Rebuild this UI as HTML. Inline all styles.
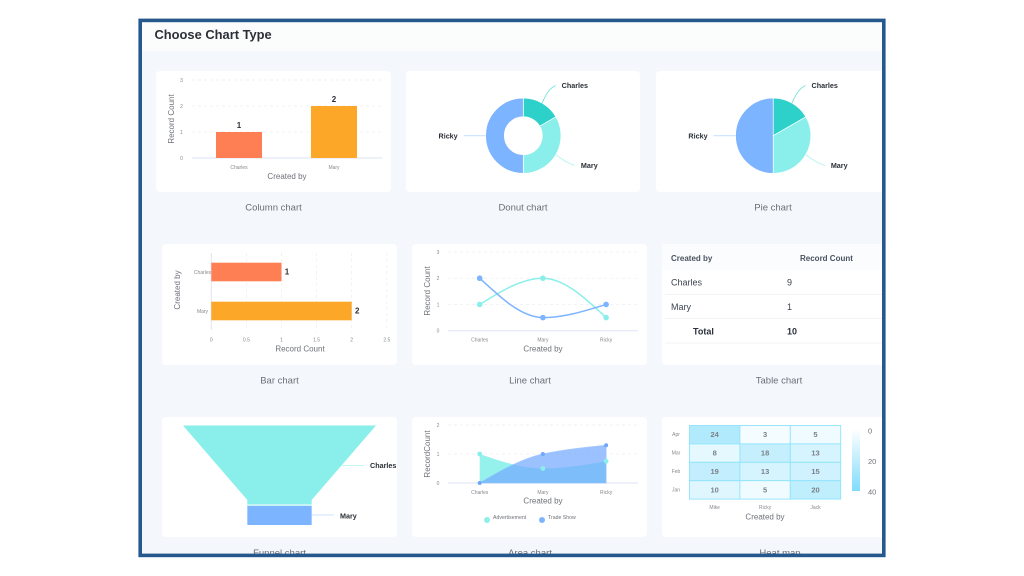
<!DOCTYPE html>
<html lang="en">
<head>
<meta charset="utf-8">
<title>Choose Chart Type</title>
<style>
html,body{margin:0;padding:0;background:#fff;width:1024px;height:576px;overflow:hidden}
svg{display:block;font-family:"Liberation Sans",sans-serif;filter:blur(0.35px)}
.card{fill:#fff}
.cap{font-size:9.5px;fill:#6a7079;text-anchor:middle}
.axt{font-size:8px;fill:#6d7178;text-anchor:middle}
.tick{font-size:5px;fill:#85898f;text-anchor:middle}
.val{font-size:8px;font-weight:bold;fill:#2a2f36;text-anchor:middle}
.lbl{font-size:7.2px;font-weight:bold;fill:#2a2f36}
.th{font-size:8px;font-weight:bold;fill:#4a5260}
.td{font-size:9px;fill:#3d4552}
.tb{font-size:9px;font-weight:bold;fill:#2a313b}
</style>
</head>
<body>
<svg id="root" width="1024" height="576" viewBox="0 0 1024 576" xmlns="http://www.w3.org/2000/svg">
  <defs>
    <linearGradient id="heat-grad" x1="0" y1="0" x2="0" y2="1">
      <stop offset="0" stop-color="#ffffff"/>
      <stop offset="1" stop-color="#7fdcfb"/>
    </linearGradient>
    <clipPath id="panel-clip"><rect x="140" y="20" width="744" height="535"/></clipPath>
  </defs>
  <g clip-path="url(#panel-clip)">
    <rect x="140" y="20" width="744" height="535" fill="#f4f7fb"/>
    <rect x="140" y="20" width="744" height="31" fill="#fbfdfd"/>
    <text x="154.5" y="39" font-size="12.9" font-weight="bold" fill="#2b3038">Choose Chart Type</text>

    <rect class="card" x="156" y="71" width="235" height="121" rx="4"/>
    <rect class="card" x="406" y="71" width="234" height="121" rx="4"/>
    <rect class="card" x="656" y="71" width="240" height="121" rx="4"/>
    <rect class="card" x="162" y="244" width="235" height="121" rx="4"/>
    <rect class="card" x="412" y="244" width="235" height="121" rx="4"/>
    <rect class="card" x="662" y="244" width="240" height="121" rx="4"/>
    <rect class="card" x="162" y="417" width="235" height="120" rx="4"/>
    <rect class="card" x="412" y="417" width="235" height="120" rx="4"/>
    <rect class="card" x="662" y="417" width="240" height="120" rx="4"/>

    <text class="cap" x="273.5" y="210.5">Column chart</text>
    <text class="cap" x="523" y="210.5">Donut chart</text>
    <text class="cap" x="773" y="210.5">Pie chart</text>
    <text class="cap" x="279.5" y="383.5">Bar chart</text>
    <text class="cap" x="530" y="383.5">Line chart</text>
    <text class="cap" x="779" y="383.5">Table chart</text>
    <text class="cap" x="279.5" y="556">Funnel chart</text>
    <text class="cap" x="530" y="556">Area chart</text>
    <text class="cap" x="780" y="556">Heat map</text>

    <g id="column">
      <text class="axt" x="287" y="179">Created by</text>
      <text class="axt" transform="translate(174,119) rotate(-90)">Record Count</text>
    </g>
    <g id="donut"></g>
    <g id="pie"></g>
    <g id="bar">
      <text class="axt" x="300" y="351.5">Record Count</text>
      <text class="axt" transform="translate(180,290) rotate(-90)">Created by</text>
    </g>
    <g id="line">
      <text class="axt" x="543" y="351.5">Created by</text>
      <text class="axt" transform="translate(430,291) rotate(-90)">Record Count</text>
    </g>
    <g id="table">
      <rect x="662" y="244" width="240" height="26" fill="#fbfcfd"/>
      <text class="th" x="671" y="261">Created by</text>
      <text class="th" x="800" y="261">Record Count</text>
      <text class="td" x="671" y="285.5">Charles</text>
      <text class="td" x="787" y="285.5">9</text>
      <line x1="665" x2="884" y1="294.5" y2="294.5" stroke="#f1f3f6"/>
      <text class="td" x="671" y="310">Mary</text>
      <text class="td" x="787" y="310">1</text>
      <line x1="665" x2="884" y1="318.5" y2="318.5" stroke="#f1f3f6"/>
      <text class="tb" x="693" y="334.5">Total</text>
      <text class="tb" x="787" y="334.5">10</text>
      <line x1="665" x2="884" y1="343" y2="343" stroke="#f1f3f6"/>
    </g>
    <g id="funnel"></g>
    <g id="area">
      <text class="axt" x="543" y="503.5">Created by</text>
      <text class="axt" transform="translate(430,454) rotate(-90)">RecordCount</text>
      <circle cx="487" cy="520" r="3" fill="#8eeeea"/>
      <text x="493" y="519" font-size="5.2" fill="#6d7178">Advertisement</text>
      <circle cx="542" cy="520" r="3" fill="#7db4ff"/>
      <text x="548" y="519" font-size="5.2" fill="#6d7178">Trade Show</text>
    </g>
    <g id="heat">
      <text class="axt" x="765" y="519.5">Created by</text>
      <rect x="852" y="429" width="8" height="62" fill="url(#heat-grad)"/>
    </g>
  </g>
  <rect x="140.2" y="20.4" width="743.6" height="535" fill="none" stroke="#25588d" stroke-width="3.6"/>
</svg>
<script>
// ---- chart data ----
const columnCategories = ['Charles', 'Mary'];
const columnValues = [1, 2];
const columnTicks = [0, 1, 2, 3];
const barColors = ['#ff7f55', '#fca728'];

const sliceCategories = ['Charles', 'Mary', 'Ricky'];
const sliceValues = [1, 2, 3];
const sliceColors = ['#2dd1c9', '#8aefea', '#7db4ff'];

const barCategories = ['Charles', 'Mary'];
const barValues = [1, 2];
const barTicks = [0, 0.5, 1, 1.5, 2, 2.5];

const lineCategories = ['Charles', 'Mary', 'Ricky'];
const lineSeriesA = [1, 2, 0.5];
const lineSeriesB = [2, 0.5, 1];
const lineTicks = [0, 1, 2, 3];

const funnelCategories = ['Charles', 'Mary'];
const funnelValues = [3, 1];

const areaCategories = ['Charles', 'Mary', 'Ricky'];
const areaAdvertisement = [1, 0.5, 0.75];
const areaTradeShow = [0, 1, 1.3];
const areaTicks = [0, 1, 2];

const heatColumns = ['Mike', 'Ricky', 'Jack'];
const heatRows = ['Apr', 'Mar', 'Feb', 'Jan'];
const heatValues = [[24, 3, 5], [8, 18, 13], [19, 13, 15], [10, 5, 20]];
const heatLegendTicks = [0, 20, 40];

// ---- helpers ----
const NS = 'http://www.w3.org/2000/svg';
function add(parent, tag, attrs, txt) {
  const el = document.createElementNS(NS, tag);
  for (const k in attrs) el.setAttribute(k, attrs[k]);
  if (txt !== undefined) el.textContent = txt;
  parent.appendChild(el);
  return el;
}
function linear(d0, d1, r0, r1) {
  return v => r0 + (v - d0) / (d1 - d0) * (r1 - r0);
}
function slug(s) { return String(s).toLowerCase().replace(/[^a-z0-9]+/g, '-'); }
function monotonePath(xs, ys) {
  const n = xs.length, d = [], m = [];
  for (let i = 0; i < n - 1; i++) d.push((ys[i + 1] - ys[i]) / (xs[i + 1] - xs[i]));
  m[0] = d[0];
  m[n - 1] = d[n - 2];
  for (let i = 1; i < n - 1; i++) {
    m[i] = d[i - 1] * d[i] <= 0 ? 0 : 2 * d[i - 1] * d[i] / (d[i - 1] + d[i]);
  }
  m[0] = (3 * d[0] - m[1]) / 2;
  m[n - 1] = (3 * d[n - 2] - m[n - 2]) / 2;
  let p = 'M' + xs[0] + ' ' + ys[0];
  for (let i = 0; i < n - 1; i++) {
    const h = (xs[i + 1] - xs[i]) / 3;
    p += ' C' + (xs[i] + h) + ' ' + (ys[i] + m[i] * h) + ' ' + (xs[i + 1] - h) + ' ' + (ys[i + 1] - m[i + 1] * h) + ' ' + xs[i + 1] + ' ' + ys[i + 1];
  }
  return p;
}
function hGrid(g, ticks, y, x0, x1, prefix, tickX) {
  ticks.forEach(t => {
    if (t !== 0) {
      const gl = add(g, 'line', {x1: x0, x2: x1, y1: y(t), y2: y(t), stroke: '#eceef1', 'stroke-width': 0.8, 'stroke-dasharray': '3 3'});
      
      
    }
    const tl = add(g, 'text', {class: 'tick', x: tickX, y: y(t) + 2}, t);
    
    
  });
  const ax = add(g, 'line', {x1: x0, x2: x1, y1: y(0), y2: y(0), stroke: '#dfe3f5', 'stroke-width': 1});
  
  
}

// ---- column chart ----
(function () {
  const g = document.getElementById('column');
  const y = linear(0, 3, 158, 80);
  const cx = i => 239 + i * 95;
  hGrid(g, columnTicks, y, 192, 382, 'column', 181.5);
  columnValues.forEach((v, i) => {
    const b = add(g, 'rect', {x: cx(i) - 23, y: y(v), width: 46, height: y(0) - y(v), fill: barColors[i]});
    
    
    const t = add(g, 'text', {class: 'val', x: cx(i), y: y(v) - 4}, v);
    
    
    const c = add(g, 'text', {class: 'tick', x: cx(i), y: 169}, columnCategories[i]);
    
    
  });
})();

// ---- donut + pie ----
function drawSlices(g, prefix, cx, cy, r, inner) {
  const total = sliceValues.reduce((a, b) => a + b, 0);
  let acc = 0;
  sliceValues.forEach((v, i) => {
    const a0 = acc / total * 2 * Math.PI;
    acc += v;
    const a1 = acc / total * 2 * Math.PI;
    const mid = (a0 + a1) / 2;
    const px = (a, rr) => cx + rr * Math.sin(a);
    const py = (a, rr) => cy - rr * Math.cos(a);
    const large = a1 - a0 > Math.PI ? 1 : 0;
    let d = 'M' + px(a0, r) + ' ' + py(a0, r) + ' A' + r + ' ' + r + ' 0 ' + large + ' 1 ' + px(a1, r) + ' ' + py(a1, r);
    if (inner > 0) {
      d += ' L' + px(a1, inner) + ' ' + py(a1, inner) + ' A' + inner + ' ' + inner + ' 0 ' + large + ' 0 ' + px(a0, inner) + ' ' + py(a0, inner) + ' Z';
    } else {
      d += ' L' + cx + ' ' + cy + ' Z';
    }
    const s = add(g, 'path', {d: d, fill: sliceColors[i], stroke: '#fff', 'stroke-width': 0.7});
    
    
    const endAngle = Math.cos(mid) > 0.2 ? mid + 0.05 : mid;
    const ex = px(endAngle, 59.6), ey = py(endAngle, 59.6);
    const sideRight = Math.sin(mid) > 0;
    const startX = px(mid, r), startY = py(mid, r);
    const ctrlX = sideRight ? startX + (ex - startX) * 0.45 : (startX + ex) / 2;
    const ctrlY = sideRight ? startY + (ey - startY) * (Math.cos(mid) > 0 ? 0.85 : 0.5) + (Math.cos(mid) > 0 ? 0 : 2) : ey;
    const l = add(g, 'path', {
      d: 'M' + startX + ' ' + startY + ' Q' + ctrlX + ' ' + ctrlY + ' ' + ex + ' ' + ey,
      fill: 'none', stroke: sliceColors[i], 'stroke-width': sideRight ? 0.8 : 1.1, opacity: sideRight ? 0.7 : 0.4
    });
    
    
    const t = add(g, 'text', {
      class: 'lbl', x: ex + (sideRight ? 6 : -6), y: ey + 2.6, 'text-anchor': sideRight ? 'start' : 'end'
    }, sliceCategories[i]);
    
    
  });
}
drawSlices(document.getElementById('donut'), 'donut', 523.3, 135.7, 37.7, 19);
drawSlices(document.getElementById('pie'), 'pie', 773.2, 135.7, 37.7, 0);

// ---- bar chart ----
(function () {
  const g = document.getElementById('bar');
  const x = linear(0, 2, 211.3, 351.7);
  const cy = i => 272 + i * 39;
  barTicks.forEach(t => {
    if (t !== 0) {
      const gl = add(g, 'line', {x1: x(t), x2: x(t), y1: 253, y2: 332, stroke: '#eceef1', 'stroke-width': 0.8, 'stroke-dasharray': '3 3'});
      
      
    }
    const tl = add(g, 'text', {class: 'tick', x: x(t), y: 341.5}, t);
    
    
  });
  const ax = add(g, 'line', {x1: x(0), x2: x(0), y1: 253, y2: 330, stroke: '#dfe3f5', 'stroke-width': 1});
  
  
  barValues.forEach((v, i) => {
    const b = add(g, 'rect', {x: x(0), y: cy(i) - 9.3, width: x(v) - x(0), height: 18.6, fill: barColors[i]});
    
    
    const t = add(g, 'text', {class: 'val', x: x(v) + 5.5, y: cy(i) + 2.5}, v);
    
    
    const c = add(g, 'text', {class: 'tick', x: 202.5, y: cy(i) + 2, 'text-anchor': 'end'}, barCategories[i]);
    
    
  });
})();

// ---- line chart ----
(function () {
  const g = document.getElementById('line');
  const y = linear(0, 3, 330.7, 252);
  const x = i => 479.7 + i * 63.2;
  hGrid(g, lineTicks, y, 448, 638, 'line', 438);
  const xs = lineCategories.map((_, i) => x(i));
  lineCategories.forEach((c, i) => {
    const t = add(g, 'text', {class: 'tick', x: x(i), y: 341.5}, c);
    
    
  });
  const pa = add(g, 'path', {d: monotonePath(xs, lineSeriesA.map(y)), fill: 'none', stroke: '#8aefea', 'stroke-width': 1.5});
  
  
  const pb = add(g, 'path', {d: monotonePath(xs, lineSeriesB.map(y)), fill: 'none', stroke: '#7db4ff', 'stroke-width': 1.5});
  
  
  lineSeriesA.forEach((v, i) => {
    const c = add(g, 'circle', {cx: x(i), cy: y(v), r: 2.8, fill: '#8aefea'});
    
    
  });
  lineSeriesB.forEach((v, i) => {
    const c = add(g, 'circle', {cx: x(i), cy: y(v), r: 2.8, fill: '#7db4ff'});
    
    
  });
})();

// ---- funnel chart ----
(function () {
  const g = document.getElementById('funnel');
  const cx = 279.5, w = linear(0, funnelValues[0], 0, 193);
  const top = 425.5;
  const funnelColors = ['#8aefea', '#7db4ff'];
  const wa = w(funnelValues[0]), wb = w(funnelValues[1]);
  const a = add(g, 'path', {
    d: 'M' + (cx - wa / 2) + ' ' + top + ' L' + (cx + wa / 2) + ' ' + top + ' L' + (cx + wb / 2) + ' ' + (top + 74.5) +
       ' L' + (cx + wb / 2) + ' ' + (top + 78.5) + ' L' + (cx - wb / 2) + ' ' + (top + 78.5) + ' L' + (cx - wb / 2) + ' ' + (top + 74.5) + ' Z',
    fill: funnelColors[0]
  });
  
  
  const gap = add(g, 'rect', {x: cx - wb / 2, y: top + 78.5, width: wb, height: 2, fill: '#c6f3f8'});
  
  
  const b = add(g, 'rect', {x: cx - wb / 2, y: top + 80.5, width: wb, height: 19, fill: funnelColors[1]});
  
  
  const l1 = add(g, 'line', {x1: 342, x2: 364, y1: 465.5, y2: 465.5, stroke: funnelColors[0], 'stroke-width': 0.8, opacity: 0.7});
  
  
  const l2 = add(g, 'line', {x1: cx + wb / 2, x2: 334, y1: 515, y2: 515, stroke: funnelColors[1], 'stroke-width': 0.8, opacity: 0.5});
  
  
  const t1 = add(g, 'text', {class: 'lbl', x: 370, y: 468}, funnelCategories[0]);
  
  
  const t2 = add(g, 'text', {class: 'lbl', x: 340, y: 518.5}, funnelCategories[1]);
  
  
})();

// ---- area chart ----
(function () {
  const g = document.getElementById('area');
  const y = linear(0, 2, 483, 425);
  const x = i => 479.7 + i * 63.2;
  hGrid(g, areaTicks, y, 448, 638, 'area', 438);
  const xs = areaCategories.map((_, i) => x(i));
  areaCategories.forEach((c, i) => {
    const t = add(g, 'text', {class: 'tick', x: x(i), y: 494}, c);
    
    
  });
  const tail = ' L' + xs[xs.length - 1] + ' ' + y(0) + ' L' + xs[0] + ' ' + y(0) + ' Z';
  const a = add(g, 'path', {d: monotonePath(xs, areaAdvertisement.map(y)) + tail, fill: '#8aefea', opacity: 0.9});
  
  
  const b = add(g, 'path', {d: monotonePath(xs, areaTradeShow.map(y)) + tail, fill: '#75aaff', opacity: 0.72, stroke: '#7db4ff', 'stroke-width': 0.8});
  
  
  areaAdvertisement.forEach((v, i) => {
    const c = add(g, 'circle', {cx: x(i), cy: y(v), r: 2.4, fill: '#8aefea'});
    
    
  });
  areaTradeShow.forEach((v, i) => {
    const c = add(g, 'circle', {cx: x(i), cy: y(v), r: 2, fill: '#6fa6fb'});
    
    
  });
})();

// ---- heat map ----
(function () {
  const g = document.getElementById('heat');
  const x0 = 689.5, y0 = 425.5, cw = 50.4, ch = 18.4;
  const mix = v => {
    const f = v / 40;
    const c = (a, b) => Math.round(a + (b - a) * f);
    return 'rgb(' + c(255, 127) + ',' + c(255, 220) + ',' + c(255, 251) + ')';
  };
  heatValues.forEach((row, r) => {
    const rl = add(g, 'text', {class: 'tick', x: 676, y: y0 + ch * (r + 0.5) + 1.5}, heatRows[r]);
    
    
    row.forEach((v, c) => {
      const cell = add(g, 'rect', {x: x0 + c * cw, y: y0 + r * ch, width: cw, height: ch, fill: mix(v), stroke: '#8fe4fc', 'stroke-width': 0.9});
      
      
      const t = add(g, 'text', {x: x0 + (c + 0.5) * cw, y: y0 + (r + 0.5) * ch + 2.5, 'text-anchor': 'middle', 'font-size': 7.5, 'font-weight': 'bold', fill: '#7b8188'}, v);
      
      
    });
  });
  heatColumns.forEach((n, c) => {
    const t = add(g, 'text', {class: 'tick', x: x0 + (c + 0.5) * cw, y: 509}, n);
    
    
  });
  const ly = linear(0, 40, 431, 492);
  heatLegendTicks.forEach(v => {
    const t = add(g, 'text', {x: 868, y: ly(v) + 2.5, 'font-size': 7.5, fill: '#6d7178'}, v);
    
    
  });
})();
</script>
</body>
</html>
